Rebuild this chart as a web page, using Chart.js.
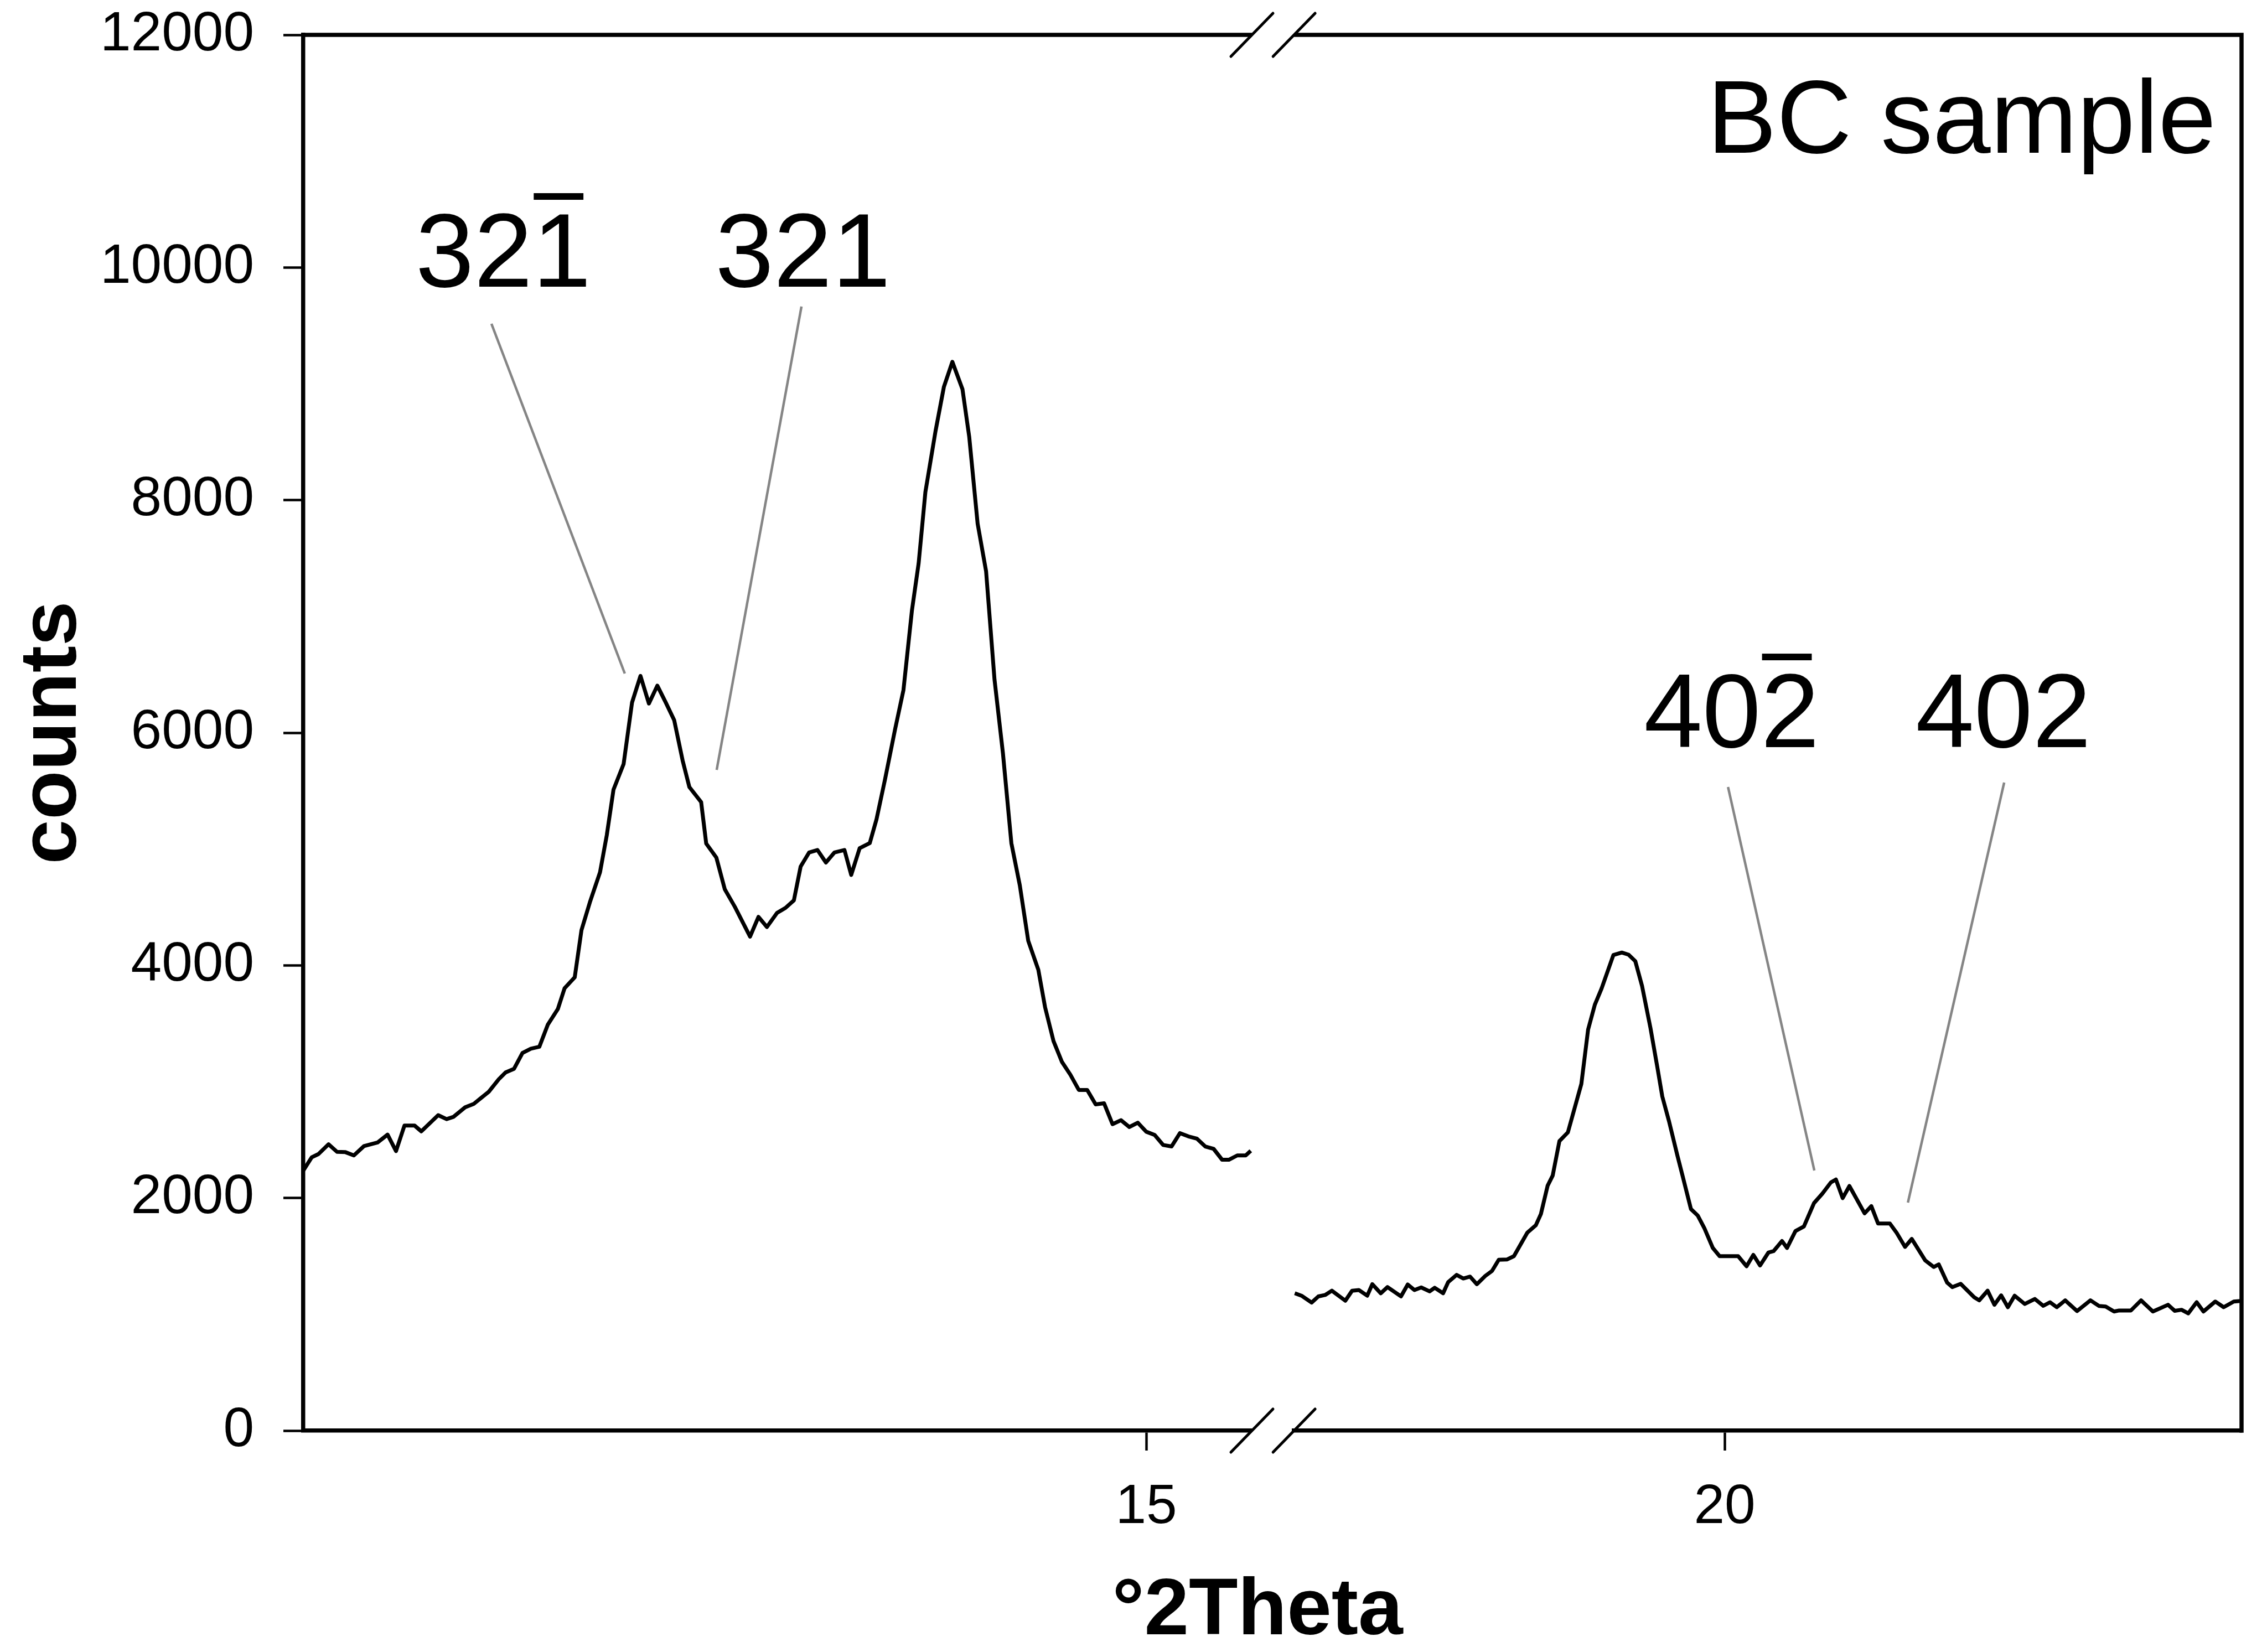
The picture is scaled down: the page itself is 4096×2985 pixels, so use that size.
<!DOCTYPE html>
<html>
<head>
<meta charset="utf-8">
<title>BC sample</title>
<script src="https://cdn.jsdelivr.net/npm/chart.js@4.4.0/dist/chart.umd.min.js"></script>
<style>
  html, body { margin: 0; padding: 0; background: #fff; overflow: hidden; }
  #wrap { width: 4096px; height: 2985px; }
</style>
</head>
<body>
<div id="wrap"><canvas id="xrd"></canvas></div>
<script>
// diffractogram, low-angle window
const leftTheta = [10.00, 10.05, 10.09, 10.15, 10.20, 10.25, 10.30, 10.36, 10.44, 10.50,
  10.55, 10.60, 10.66, 10.70, 10.80, 10.85, 10.89, 10.96, 11.01, 11.05,
  11.10, 11.16, 11.20, 11.25, 11.30, 11.35, 11.40, 11.45, 11.51, 11.55,
  11.61, 11.65, 11.70, 11.76, 11.80, 11.84, 11.90, 11.95, 12.00, 12.05,
  12.10, 12.15, 12.20, 12.25, 12.29, 12.36, 12.39, 12.45, 12.50, 12.56,
  12.65, 12.70, 12.75, 12.81, 12.86, 12.91, 12.95, 13.00, 13.05, 13.10,
  13.15, 13.21, 13.25, 13.30, 13.36, 13.40, 13.45, 13.51, 13.56, 13.61,
  13.65, 13.69, 13.75, 13.80, 13.85, 13.91, 13.95, 14.00, 14.05, 14.10,
  14.15, 14.20, 14.25, 14.30, 14.36, 14.40, 14.45, 14.50, 14.55, 14.60,
  14.65, 14.70, 14.75, 14.80, 14.85, 14.90, 14.95, 15.00, 15.05, 15.10,
  15.15, 15.20, 15.25, 15.30, 15.35, 15.40, 15.45, 15.49, 15.54, 15.59, 15.62];
const leftCounts = [2236, 2350, 2378, 2462, 2397, 2394, 2366, 2446, 2477, 2545,
  2403, 2623, 2623, 2573, 2712, 2678, 2697, 2780, 2808, 2855,
  2913, 3022, 3080, 3111, 3247, 3284, 3300, 3489, 3625, 3804,
  3897, 4302, 4543, 4800, 5118, 5511, 5731, 6260, 6489, 6251,
  6405, 6260, 6108, 5762, 5533, 5403, 5047, 4927, 4655, 4503,
  4247, 4417, 4330, 4451, 4494, 4559, 4850, 4970, 4992, 4884,
  4970, 4992, 4778, 5007, 5051, 5255, 5595, 6028, 6368, 7049,
  7457, 8069, 8592, 8975, 9189, 8954, 8545, 7797, 7389, 6458,
  5824, 5051, 4689, 4212, 3962, 3640, 3349, 3170, 3060, 2929,
  2929, 2805, 2814, 2635, 2669, 2610, 2647, 2570, 2542, 2456,
  2443, 2558, 2530, 2511, 2443, 2422, 2329, 2329, 2366, 2366, 2406];

// diffractogram, high-angle window
const rightTheta = [17.45, 17.49, 17.55, 17.59, 17.63, 17.67, 17.75, 17.79, 17.83, 17.88,
  17.91, 17.96, 18.00, 18.08, 18.12, 18.16, 18.20, 18.25, 18.28, 18.33,
  18.36, 18.41, 18.45, 18.49, 18.53, 18.58, 18.62, 18.66, 18.71, 18.75,
  18.83, 18.88, 18.91, 18.95, 18.98, 19.02, 19.07, 19.15, 19.19, 19.23,
  19.27, 19.34, 19.39, 19.43, 19.47, 19.51, 19.56, 19.60, 19.63, 19.67,
  19.72, 19.75, 19.80, 19.84, 19.88, 19.93, 19.97, 20.08, 20.13, 20.17,
  20.21, 20.26, 20.29, 20.34, 20.37, 20.42, 20.47, 20.53, 20.58, 20.63,
  20.66, 20.70, 20.74, 20.83, 20.87, 20.91, 20.98, 21.02, 21.07, 21.11,
  21.19, 21.24, 21.27, 21.32, 21.35, 21.40, 21.48, 21.51, 21.56, 21.60,
  21.64, 21.68, 21.72, 21.78, 21.84, 21.89, 21.93, 21.97, 22.02, 22.09,
  22.17, 22.22, 22.26, 22.31, 22.34, 22.41, 22.47, 22.54, 22.63, 22.67,
  22.71, 22.75, 22.80, 22.84, 22.91, 22.96, 23.02, 23.06];
const rightCounts = [1181, 1160, 1101, 1154, 1166, 1203, 1117, 1203, 1209, 1160,
  1259, 1181, 1234, 1154, 1256, 1209, 1231, 1197, 1228, 1181,
  1277, 1339, 1308, 1324, 1259, 1330, 1373, 1469, 1472, 1500,
  1703, 1766, 1862, 2106, 2193, 2490, 2564, 2981, 3448, 3662,
  3801, 4089, 4110, 4092, 4036, 3823, 3461, 3130, 2873, 2660,
  2363, 2193, 1905, 1850, 1740, 1570, 1500, 1500, 1413, 1511,
  1420, 1532, 1543, 1630, 1571, 1716, 1755, 1956, 2038, 2134,
  2159, 1999, 2103, 1868, 1930, 1781, 1781, 1701, 1580, 1648,
  1463, 1407, 1429, 1272, 1234, 1262, 1147, 1120, 1203, 1082,
  1163, 1061, 1160, 1089, 1132, 1073, 1104, 1061, 1120, 1028,
  1120, 1072, 1067, 1024, 1033, 1033, 1120, 1024, 1082, 1030,
  1039, 1008, 1104, 1024, 1110, 1061, 1110, 1115];

const countTicks = [0, 2000, 4000, 6000, 8000, 10000, 12000];
const leftTicks = [15];
const rightTicks = [20];
const leftRange = [10, 15.627];
const rightRange = [17.446, 23.066];
const breakSpan = 0.25;

// reflection labels with their leader lines
const peakNames = ['321', '321', '402', '402'];
const peakBarDigit = [2, -1, 2, -1];
const peakAxis = ['xLeft', 'xLeft', 'xRight', 'xRight'];
const peakTextAt = [[10.666, 9835], [12.443, 9835], [19.521, 5876], [21.133, 5876]];
const peakLineFrom = [[11.116, 9516], [12.955, 9664], [20.020, 5534], [21.658, 5572]];
const peakLineTo = [[11.907, 6509], [12.452, 5681], [20.532, 2236], [21.087, 1960]];

const toPoints = (xs, ys) => xs.map((x, i) => ({x: x, y: ys[i]}));

const FONT = '"Liberation Sans", Arial, sans-serif';
Chart.defaults.font.family = FONT;
Chart.defaults.color = '#000';

const frameAndLabels = {
  id: 'frameAndLabels',
  afterDraw(chart) {
    const {ctx, chartArea: a, scales} = chart;
    const xl = scales.xLeft, xr = scales.xRight, y = scales.y;
    ctx.save();

    // top and right edges of the frame, top edge broken like the axis
    ctx.strokeStyle = '#000';
    ctx.lineWidth = 7.5;
    ctx.beginPath();
    ctx.moveTo(a.left - 3.75, a.top);
    ctx.lineTo(xl.right, a.top);
    ctx.moveTo(xr.left, a.top);
    ctx.lineTo(a.right + 3.75, a.top);
    ctx.moveTo(a.right, a.top);
    ctx.lineTo(a.right, a.bottom + 3.75);
    ctx.stroke();

    // axis break marks
    ctx.lineWidth = 5;
    ctx.lineCap = 'round';
    [a.top, a.bottom].forEach(cy => {
      [xl.right, xr.left].forEach(cx => {
        ctx.beginPath();
        ctx.moveTo(cx - 38, cy + 39);
        ctx.lineTo(cx + 38, cy - 39);
        ctx.stroke();
      });
    });

    // peak labels
    ctx.lineCap = 'butt';
    ctx.font = '190px ' + FONT;
    ctx.textAlign = 'left';
    ctx.textBaseline = 'alphabetic';
    peakNames.forEach((name, i) => {
      const sx = scales[peakAxis[i]];
      const tx = sx.getPixelForValue(peakTextAt[i][0]);
      const ty = y.getPixelForValue(peakTextAt[i][1]);
      ctx.fillStyle = '#000';
      ctx.fillText(name, tx, ty);
      const k = peakBarDigit[i];
      if (k >= 0) {
        const pre = ctx.measureText(name.slice(0, k)).width;
        const w = ctx.measureText(name[k]).width;
        ctx.fillRect(tx + pre + w * 0.02, ty - 169, w * 0.85, 12);
      }
      ctx.strokeStyle = '#858585';
      ctx.lineWidth = 4.5;
      ctx.beginPath();
      ctx.moveTo(sx.getPixelForValue(peakLineFrom[i][0]), y.getPixelForValue(peakLineFrom[i][1]));
      ctx.lineTo(sx.getPixelForValue(peakLineTo[i][0]), y.getPixelForValue(peakLineTo[i][1]));
      ctx.stroke();
    });

    // sample name
    ctx.fillStyle = '#000';
    ctx.font = '188px ' + FONT;
    ctx.textAlign = 'right';
    ctx.fillText('BC sample', a.right - 46, a.top + 213);

    // x axis title, centred under the break
    ctx.font = 'bold 145px ' + FONT;
    ctx.textAlign = 'center';
    ctx.fillText('°2Theta', (xl.right + xr.left) / 2 - 28, a.bottom + 368);
    ctx.restore();
  }
};

const tickFont = {size: 100};
const titleFont = {size: 145, weight: 'bold'};
const lineStyle = {
  borderColor: '#000',
  borderWidth: 7,
  borderJoinStyle: 'round',
  pointRadius: 0,
  tension: 0,
  fill: false
};

const xAxis = (range, ticks) => ({
  type: 'linear',
  position: 'bottom',
  stack: 'theta',
  stackWeight: range[1] - range[0],
  min: range[0],
  max: range[1],
  afterBuildTicks: s => { s.ticks = ticks.map(v => ({value: v})); },
  afterFit: s => { s.height = 400; s.paddingLeft = 0; s.paddingRight = 0; },
  border: {display: true, color: '#000', width: 7.5},
  grid: {display: true, drawOnChartArea: false, drawTicks: true, tickLength: 36, tickWidth: 4.5, tickColor: '#000'},
  ticks: {font: tickFont, padding: 43, maxRotation: 0, autoSkip: false, callback: v => String(v)}
});

new Chart(document.getElementById('xrd'), {
  type: 'line',
  data: {
    datasets: [
      Object.assign({data: toPoints(leftTheta, leftCounts), xAxisID: 'xLeft', yAxisID: 'y'}, lineStyle),
      Object.assign({data: toPoints(rightTheta, rightCounts), xAxisID: 'xRight', yAxisID: 'y'}, lineStyle)
    ]
  },
  options: {
    responsive: true,
    maintainAspectRatio: false,
    devicePixelRatio: 1,
    animation: false,
    events: [],
    layout: {padding: {top: 63, right: 46, bottom: 0, left: 0}},
    plugins: {legend: {display: false}, tooltip: {enabled: false}},
    scales: {
      xLeft: xAxis(leftRange, leftTicks),
      xGap: {
        type: 'linear',
        position: 'bottom',
        stack: 'theta',
        stackWeight: breakSpan,
        min: 0,
        max: 1,
        afterFit: s => { s.height = 400; },
        border: {display: false},
        grid: {display: false},
        ticks: {display: false},
        title: {display: false}
      },
      xRight: xAxis(rightRange, rightTicks),
      y: {
        type: 'linear',
        position: 'left',
        min: 0,
        max: 12000,
        afterBuildTicks: s => { s.ticks = countTicks.map(v => ({value: v})); },
        afterFit: s => { s.width = 548; s.paddingTop = 0; s.paddingBottom = 0; },
        border: {display: true, color: '#000', width: 7.5},
        grid: {display: true, drawOnChartArea: false, drawTicks: true, tickLength: 36, tickWidth: 4.5, tickColor: '#000'},
        ticks: {font: tickFont, padding: 53, callback: v => String(v)},
        title: {display: true, text: 'counts', font: titleFont, padding: {top: 10, bottom: 0}}
      }
    }
  },
  plugins: [frameAndLabels]
});
</script>
</body>
</html>
